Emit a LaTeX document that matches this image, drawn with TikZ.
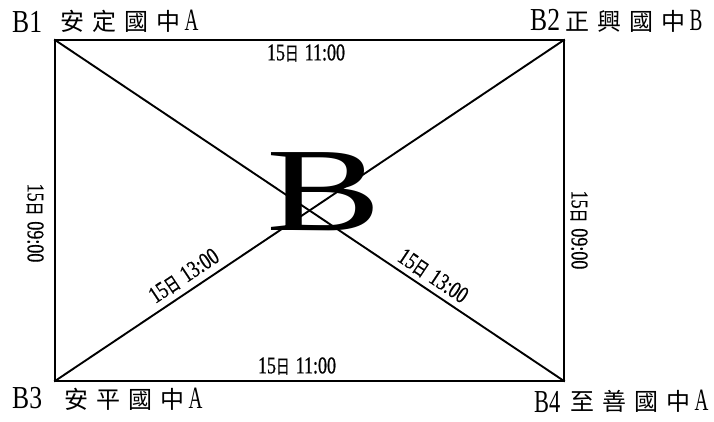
\documentclass[tikz,border=0pt]{standalone}
\usepackage{fontspec}
\setmainfont{Liberation Serif}
\newfontfamily\narrowserif[FakeStretch=0.75,FakeBold=0.6]{Liberation Serif}
\newfontfamily\narrowcjk[FakeStretch=0.72,FakeBold=0.6]{Noto Sans CJK TC}
\newfontfamily\cjkspaced[LetterSpace=34]{Noto Sans CJK TC}
\newfontfamily\cornerfont[FakeStretch=0.8]{Liberation Serif}
\newfontfamily\narrowcorner[FakeStretch=0.7]{Liberation Serif}
\newfontfamily\letterfont[FakeStretch=0.62]{Liberation Serif}
\newfontfamily\bigfont[FakeStretch=1.45]{Liberation Serif}
\newcommand{\timelbl}[1]{{\fontsize{24}{24}\selectfont\narrowserif 15{\fontsize{19}{19}\selectfont\narrowcjk 日}\hspace{6pt}#1}}
\newcommand{\schoolname}[2]{#1\hspace{4pt}{\fontsize{31}{31}\selectfont\letterfont #2}}
\tikzset{
  edgeline/.style={line width=1.9pt, line cap=rect},
  timetext/.style={inner sep=0pt},
  cornertext/.style={inner sep=0pt, anchor=base west, font=\fontsize{32}{32}\selectfont\cornerfont},
  schooltext/.style={inner sep=0pt, anchor=base west, font=\fontsize{24}{24}\selectfont\cjkspaced},
  bigtext/.style={inner sep=0pt, anchor=base, font=\fontsize{119}{119}\selectfont\bigfont}
}
\begin{document}
\begin{tikzpicture}[x=1pt,y=1pt]
\useasboundingbox (0,0) rectangle (714,421);
\coordinate (c1) at (55,381);
\coordinate (c2) at (564,381);
\coordinate (c3) at (55,40);
\coordinate (c4) at (564,40);
% big letter
\node[bigtext] (big) at (324,191) {B};
% frame and diagonals
\draw[edgeline] (c1) -- (c2) -- (c4) -- (c3) -- cycle;
\draw[edgeline] (c1) -- (c4);
\draw[edgeline] (c3) -- (c2);
% corner labels
\node[cornertext] (b1) at (12,388) {B1};
\node[schooltext] (s1) at (60,390) {\schoolname{安定國中}{A}};
\node[cornertext] (b2) at (530,390) {B2};
\node[schooltext] (s2) at (565,390) {\schoolname{正興國中}{B}};
\node[cornertext] (b3) at (12,13) {B3};
\node[schooltext] (s3) at (64,13) {\schoolname{安平國中}{A}};
\node[cornertext, font=\fontsize{32}{32}\selectfont\narrowcorner] (b4) at (534,9) {B4};
\node[schooltext] (s4) at (570,11) {\schoolname{至善國中}{A}};
% time labels
\node[timetext] (ttop) at (306,368) {\timelbl{11:00}};
\node[timetext] (tbot) at (297,55) {\timelbl{11:00}};
\node[timetext, rotate=-90] (tleft) at (35,198) {\timelbl{09:00}};
\node[timetext, rotate=-90] (tright) at (579,191) {\timelbl{09:00}};
\node[timetext, rotate=33.82] (tdl) at (184,145) {\timelbl{13:00}};
\node[timetext, rotate=-33.82] (tdr) at (433,145) {\timelbl{13:00}};
\end{tikzpicture}
\end{document}
